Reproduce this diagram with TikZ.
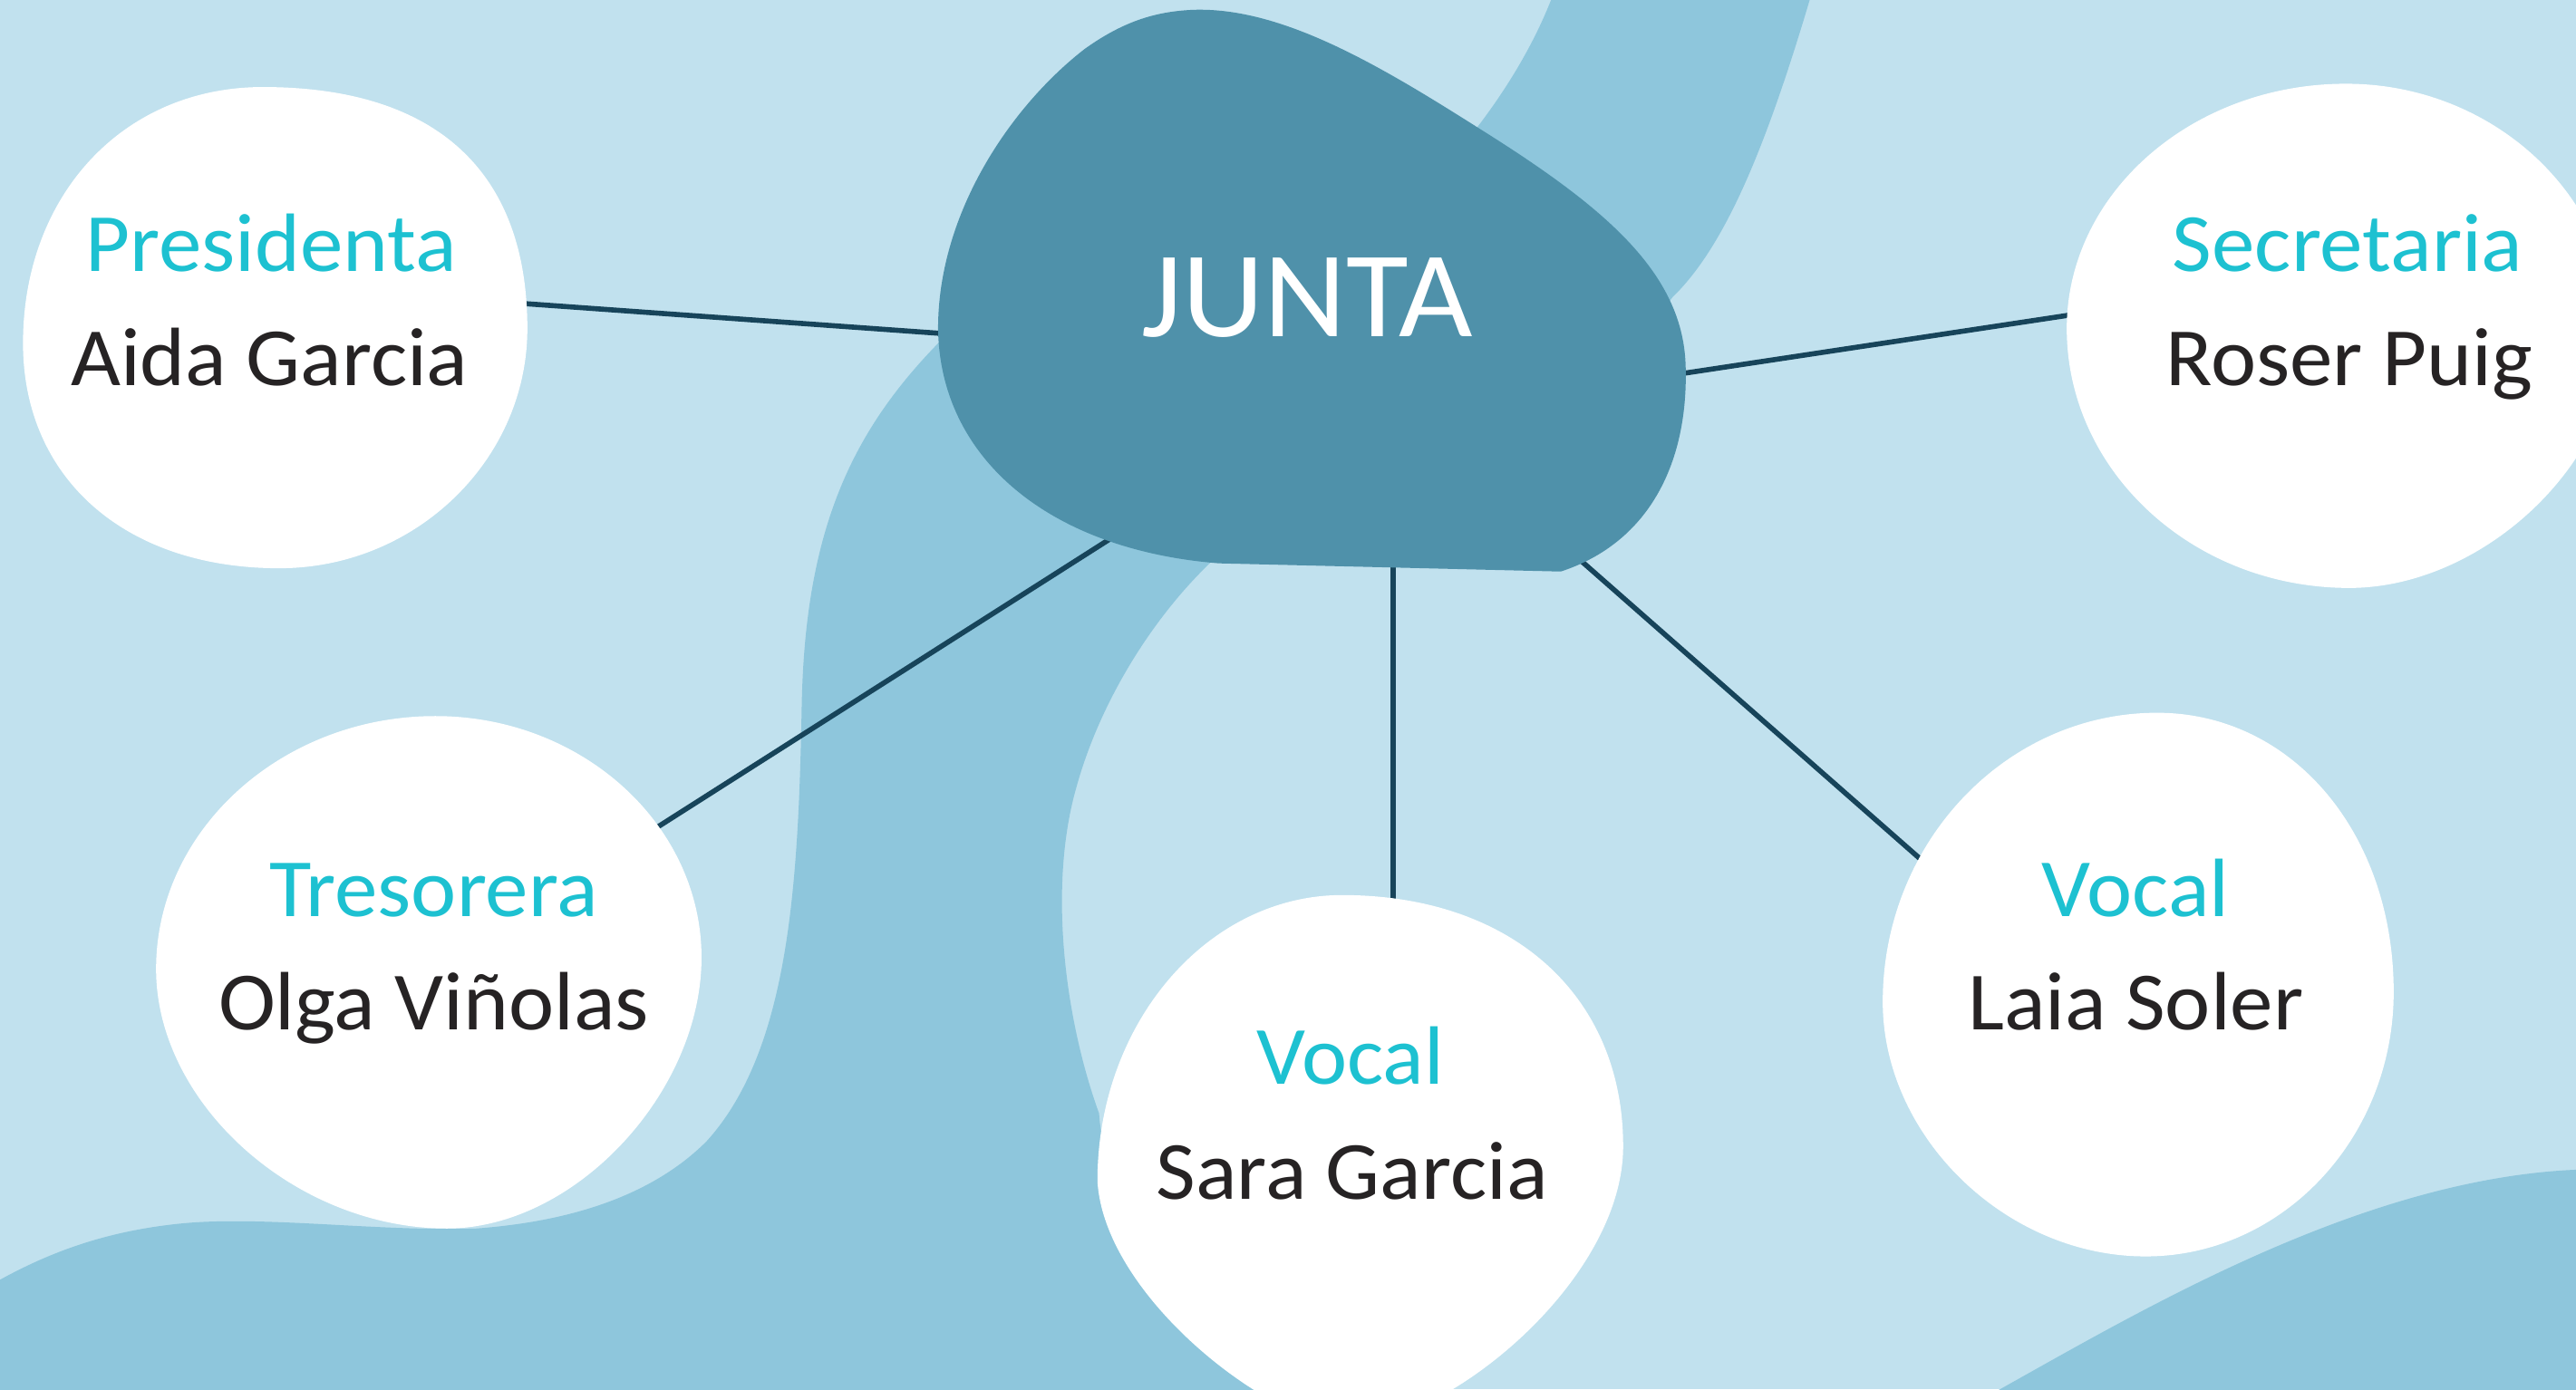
\documentclass[tikz,border=0pt]{standalone}
\usepackage{fontspec}
\setmainfont{Carlito}[FakeStretch=1.04]
\definecolor{bglight}{HTML}{C1E1EE}
\definecolor{bandblue}{HTML}{8EC6DC}
\definecolor{blobblue}{HTML}{4F91AA}
\definecolor{connblue}{HTML}{17445A}
\definecolor{titlecyan}{HTML}{1DC1D1}
\definecolor{nametext}{HTML}{262324}
\tikzset{
  conn/.style={draw=connblue, line width=1.6pt},
  whiteblob/.style={fill=white},
  roletitle/.style={text=titlecyan, font=\fontsize{26}{30}\selectfont, anchor=base, inner sep=0pt},
  personname/.style={text=nametext, font=\fontsize{26}{30}\selectfont, anchor=base, inner sep=0pt},
  juntatext/.style={text=white, font=\fontsize{38.5}{44}\selectfont, anchor=base, inner sep=0pt}
}
\begin{document}
\begin{tikzpicture}[x=0.018125cm, y=-0.018125cm]
\useasboundingbox (0,0) rectangle (1568,846);
\clip (0,0) rectangle (1568,846);
% background
\fill[bglight] (0,0) rectangle (1568,846);
% river band
\fill[bandblue] (946,-5) .. controls (935,25) and (915,60) .. (885,95)
  -- (600,200) -- (575,205)
  .. controls (520,260) and (490,320) .. (488,430)
  .. controls (486,540) and (480,640) .. (430,695)
  .. controls (390,735) and (330,745) .. (290,748)
  .. controls (230,750) and (160,740) .. (110,745)
  .. controls (60,750) and (25,765) .. (-5,782)
  -- (-5,850) -- (790,850)
  .. controls (720,790) and (672,730) .. (669,678)
  .. controls (648,620) and (638,540) .. (655,480)
  .. controls (670,425) and (705,370) .. (745,335)
  -- (1000,205) -- (1018,181)
  .. controls (1050,150) and (1075,90) .. (1103,-5) -- cycle;
% bottom right wave
\fill[bandblue] (1210,850) .. controls (1300,800) and (1440,715) .. (1575,712) -- (1575,850) -- cycle;
% connector end points
\coordinate (jW) at (585,203.9);
\coordinate (pE) at (310,184.2);
\coordinate (jE) at (1015,228.8);
\coordinate (sW) at (1270,190.3);
\coordinate (jSW) at (680,325.4);
\coordinate (tNE) at (390,510.1);
\coordinate (jS) at (848,340);
\coordinate (vN) at (848,555);
\coordinate (jSE) at (955,335);
\coordinate (lNW) at (1180,532.8);
\draw[conn] (jW) -- (pE);
\draw[conn] (jE) -- (sW);
\draw[conn] (jSW) -- (tNE);
\draw[conn] (jS) -- (vN);
\draw[conn] (jSE) -- (lNW);
% central blob
\fill[blobblue] (726,6) .. controls (780,4) and (840,40) .. (900,78)
  .. controls (975,125) and (1024,165) .. (1026,222)
  .. controls (1028,280) and (1005,330) .. (950,348)
  -- (742,343)
  .. controls (640,335) and (572,280) .. (571,200)
  .. controls (571,130) and (615,65) .. (660,30)
  .. controls (685,12) and (705,7) .. cycle;
% white blobs
\fill[whiteblob] (160,53) .. controls (265,53) and (321,104) .. (321,200)
  .. controls (321,280) and (253,346) .. (170,346)
  .. controls (76,346) and (14,291) .. (14,209)
  .. controls (14,119) and (75,53) .. cycle;
\fill[whiteblob] (1428,51) .. controls (1518,51) and (1592,120) .. (1592,205)
  .. controls (1592,282) and (1511,358) .. (1430,358)
  .. controls (1335,358) and (1258,287) .. (1258,200)
  .. controls (1258,118) and (1334,51) .. cycle;
\fill[whiteblob] (265,436) .. controls (354,436) and (427,502) .. (427,583)
  .. controls (427,665) and (350,748) .. (272,748)
  .. controls (180,748) and (95,672) .. (95,590)
  .. controls (95,505) and (172,436) .. cycle;
\fill[whiteblob] (817,545) .. controls (920,545) and (988,606) .. (988,698)
  .. controls (988,780) and (880,868) .. (820,868)
  .. controls (775,868) and (672,790) .. (668,719)
  .. controls (668,623) and (735,545) .. cycle;
\fill[whiteblob] (1313,434) .. controls (1395,434) and (1457,507) .. (1457,604)
  .. controls (1457,693) and (1389,765) .. (1306,765)
  .. controls (1221,765) and (1146,692) .. (1146,610)
  .. controls (1146,513) and (1221,434) .. cycle;
% texts
\node[juntatext] (junta) at (795.5,205) {JUNTA};
\node[roletitle] (presT) at (165,165.5) {Presidenta};
\node[personname] (presN) at (164,234.5) {Aida Garcia};
\node[roletitle] (secT) at (1429,165.5) {Secretaria};
\node[personname] (secN) at (1430,234.5) {Roser Puig};
\node[roletitle] (treT) at (264,558) {Tresorera};
\node[personname] (treN) at (264,627) {Olga Viñolas};
\node[roletitle] (voc1T) at (822,660) {Vocal};
\node[personname] (voc1N) at (823,730) {Sara Garcia};
\node[roletitle] (voc2T) at (1300,558) {Vocal};
\node[personname] (voc2N) at (1300,627) {Laia Soler};
\end{tikzpicture}
\end{document}
